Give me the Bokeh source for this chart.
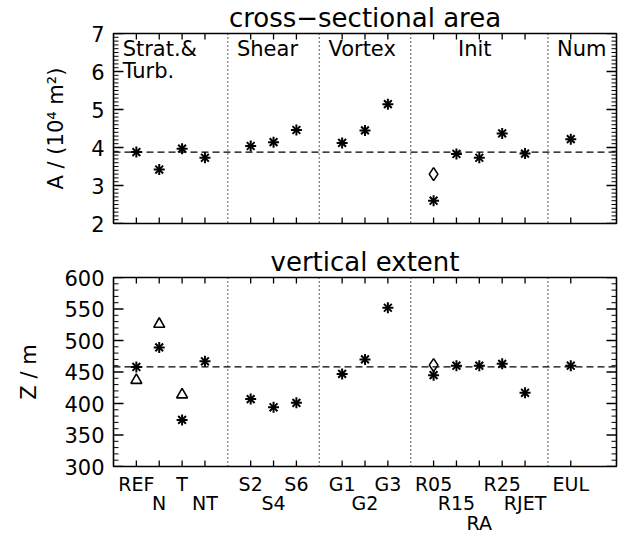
import math
import numpy as np
from bokeh.plotting import figure
from bokeh.models import (Range1d, LinearAxis, SingleIntervalTicker,
                          FixedTicker, Span, ColumnDataSource)
from bokeh.core.properties import value
from bokeh.embed import file_html
from bokeh.resources import INLINE

# ---------------- data ----------------
cases = ["REF", "N", "T", "NT", "S2", "S4", "S6", "G1", "G2", "G3",
         "R05", "R15", "RA", "R25", "RJET", "EUL"]
case_pos = [1, 2, 3, 4, 6, 7, 8, 10, 11, 12, 14, 15, 16, 17, 18, 20]
label_row = [1, 2, 1, 2, 1, 2, 1, 1, 2, 1, 1, 2, 3, 1, 2, 1]

area = [3.88, 3.42, 3.97, 3.73, 4.04, 4.14, 4.46, 4.12, 4.45, 5.14,
        2.60, 3.83, 3.73, 4.37, 3.84, 4.22]
area_diamond_case = ["R05"]
area_diamond = [3.30]

vext = [458, 489, 374, 467, 407, 394, 401, 447, 470, 552,
        445, 460, 460, 463, 417, 460]
vext_triangle_case = ["REF", "N", "T"]
vext_triangle = [437, 526, 414]
vext_diamond_case = ["R05"]
vext_diamond = [461]

section_names = ["Strat.&\nTurb.", "Shear", "Vortex", "Init", "Num"]
section_bounds = [0, 5, 9, 13, 19, 22]
dividers = section_bounds[1:-1]

FONT = "DejaVu Sans"
W = 619
BL, BR = 113, 3
X0, X1 = 0, 22
pos_of = dict(zip(cases, case_pos))


def make_panel(height, title, y0, y1, interval, nminor, ylabel, ref,
               btop, bbottom):
    p = figure(width=W, height=height, output_backend="svg",
               toolbar_location=None, x_range=Range1d(X0, X1),
               y_range=Range1d(y0, y1), x_axis_location=None,
               y_axis_location=None, min_border_left=BL,
               min_border_right=BR, min_border_top=btop,
               min_border_bottom=bbottom)
    p.grid.visible = False
    p.outline_line_color = "black"
    p.outline_line_width = 1.6
    p.background_fill_color = "white"
    p.border_fill_color = "white"
    p.title.text = title
    p.title.text_font = FONT
    p.title.text_font_size = "26px"
    p.title.text_font_style = "normal"
    p.title.align = "center"
    p.title.text_color = "black"
    p.title.standoff = 1

    # left axis: tick labels + axis title (ticks drawn as inward rays)
    left = LinearAxis(ticker=SingleIntervalTicker(interval=interval,
                                                  num_minor_ticks=nminor),
                      axis_label=ylabel)
    left.axis_line_color = None
    left.major_tick_line_color = None
    left.minor_tick_line_color = None
    left.major_tick_out = 0
    left.minor_tick_out = 0
    left.major_tick_in = 0
    left.minor_tick_in = 0
    left.major_label_text_font = FONT
    left.major_label_text_font_size = "21px"
    left.major_label_text_color = "black"
    left.major_label_standoff = 9
    left.axis_label_text_font = FONT
    left.axis_label_text_font_size = "21px"
    left.axis_label_text_font_style = "normal"
    left.axis_label_text_color = "black"
    left.axis_label_standoff = 20
    p.add_layout(left, "left")

    # inward ticks on all four sides
    majors = np.arange(y0, y1 + interval * 0.001, interval)
    step = interval / nminor
    minors = [v for v in np.arange(y0, y1 + step * 0.001, step)
              if abs((v - y0) / interval - round((v - y0) / interval)) > 1e-6]
    for xs, ang in ((X0, 0.0), (X1, math.pi)):
        p.ray(x=[xs] * len(majors), y=majors, length=10, length_units="screen",
              angle=ang, line_color="black", line_width=1.3)
        p.ray(x=[xs] * len(minors), y=minors, length=5, length_units="screen",
              angle=ang, line_color="black", line_width=1)
    for ys, ang in ((y0, math.pi / 2), (y1, -math.pi / 2)):
        p.ray(x=case_pos, y=[ys] * len(case_pos), length=6,
              length_units="screen", angle=ang, line_color="black",
              line_width=1.3)

    for d in dividers:
        p.add_layout(Span(location=d, dimension="height", line_color="black",
                          line_dash="1 3", line_width=1.3))
    p.add_layout(Span(location=ref, dimension="width", line_color="black",
                      line_dash="7 4", line_width=1.3))
    return p


def asterisks(p, xs, ys):
    for mk in ("x", "cross"):
        p.scatter(xs, ys, marker=mk, size=11, line_width=2,
                  line_color="black")


# ---------------- top panel ----------------
top = make_panel(242, "cross−sectional area", 2, 7, 1, 10,
                 "A / (10⁴ m²)", area[0], 33, 19)
asterisks(top, case_pos, area)
top.scatter([pos_of[c] for c in area_diamond_case], area_diamond,
            marker="diamond", size=13, line_width=1.6, line_color="black",
            fill_color=None)

sx, sy, sa = [], [], []
for i, name in enumerate(section_names):
    lo, hi = section_bounds[i], section_bounds[i + 1]
    if name == "Init":
        sx.append((lo + hi) / 2 - 0.2)
        sa.append("center")
    else:
        sx.append(lo + 0.4)
        sa.append("left")
    sy.append(7)
src = ColumnDataSource(dict(x=sx, y=sy, t=section_names, a=sa))
top.text(x="x", y="y", text="t", source=src, text_align="a",
         text_baseline="top", text_font=value(FONT), text_font_size="21px",
         text_line_height=0.95, y_offset=3, text_color="black")

# ---------------- bottom panel ----------------
bot = make_panel(295, "vertical extent", 300, 600, 50, 5,
                 "Z / m", vext[0], 35, 71)
asterisks(bot, case_pos, vext)
bot.scatter([pos_of[c] for c in vext_triangle_case], vext_triangle,
            marker="triangle", size=11, line_width=1.6, line_color="black",
            fill_color=None)
bot.scatter([pos_of[c] for c in vext_diamond_case], vext_diamond,
            marker="diamond", size=13, line_width=1.6, line_color="black",
            fill_color=None)

# case names below the bottom panel, staggered in rows
below = LinearAxis(ticker=FixedTicker(ticks=case_pos))
below.axis_line_color = None
below.major_tick_line_color = None
below.minor_tick_line_color = None
below.major_tick_in = 0
below.major_tick_out = 0
below.major_label_overrides = {
    pos: "\n" * (r - 1) + name
    for pos, name, r in zip(case_pos, cases, label_row)}
below.major_label_text_font = FONT
below.major_label_text_font_size = "19px"
below.major_label_text_color = "black"
below.major_label_text_line_height = 0.9
below.major_label_standoff = 6
bot.add_layout(below, "below")

open("out.html", "w").write(file_html([top, bot], INLINE))
